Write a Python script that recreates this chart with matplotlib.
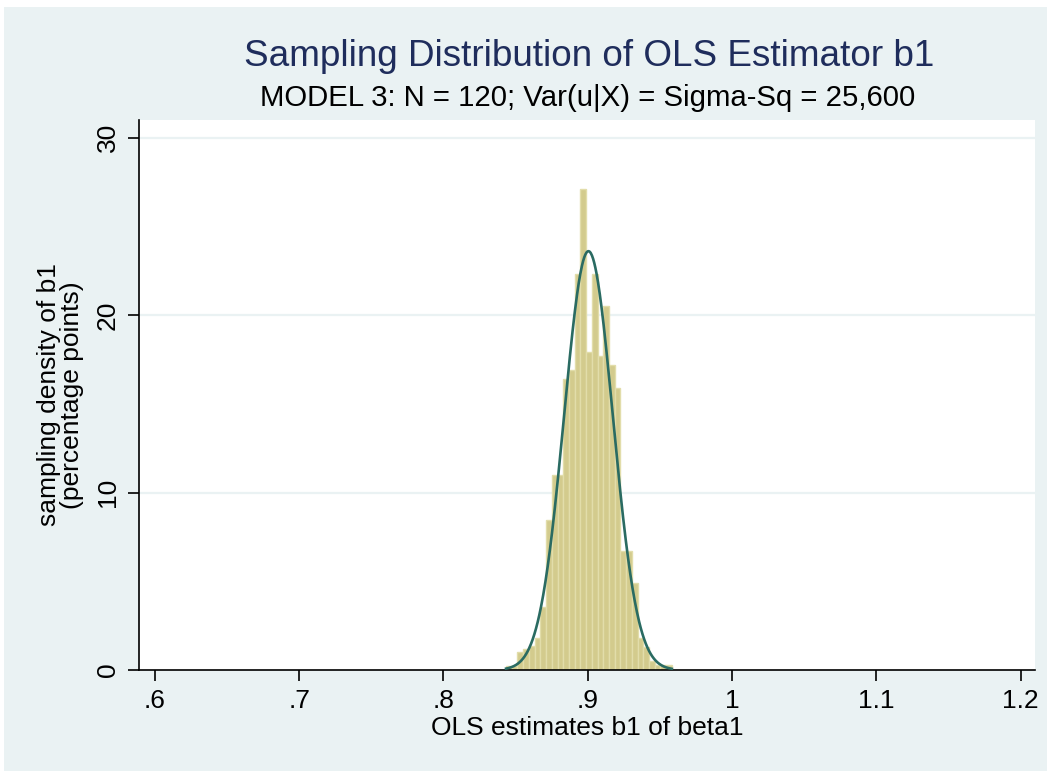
import numpy as np
import matplotlib
matplotlib.use("Agg")
import matplotlib.pyplot as plt
from matplotlib.patches import Rectangle


# ----------------------------------------------------------------------------------------------------------
# DATA
# ----------------------------------------------------------------------------------------------------------

# histogram of the OLS estimates b1: 29 bins between these two edges
bin_start = 0.8434
bin_end = 0.9583
bin_heights = [0.2, 0.25, 1.0, 1.2, 1.35, 1.8, 3.55, 8.45, 11.0, 11.0,
               16.4, 16.9, 22.3, 27.1, 17.9, 22.3, 17.7, 20.5, 17.2, 15.9,
               6.7, 6.7, 4.9, 1.8, 1.3, 0.5, 0.3, 0.3, 0.3]

# overlaid normal density
normal_mean = 0.9005
normal_sd = 0.0169

x_ticks = [0.6, 0.7, 0.8, 0.9, 1.0, 1.1, 1.2]
x_tick_labels = [".6", ".7", ".8", ".9", "1", "1.1", "1.2"]
y_ticks = [0, 10, 20, 30]
y_tick_labels = ["0", "10", "20", "30"]

title = "Sampling Distribution of OLS Estimator b1"
subtitle = "MODEL 3: N = 120; Var(u|X) = Sigma-Sq = 25,600"
x_label = "OLS estimates b1 of beta1"
y_label = "sampling density of b1\n(percentage points)"


# ----------------------------------------------------------------------------------------------------------
# STYLE
# ----------------------------------------------------------------------------------------------------------

plt.rcParams['font.family'] = ['Liberation Sans', 'DejaVu Sans']

PANEL = "#eaf2f3"
BAR_FILL = "#d3cb8d"
BAR_EDGE = "#e2ddaa"
CURVE = "#2a6b62"
TITLE_COLOR = "#1f2d5c"


def main():
    fig = plt.figure(figsize=(10.51, 7.71), dpi=100, facecolor="white")

    # light outer region like a Stata graph region (drawn behind the axes)
    fig.patches.append(Rectangle((4 / 1051, 0), 1043 / 1051, 764 / 771,
                                 transform=fig.transFigure, facecolor=PANEL,
                                 edgecolor="none", zorder=-10))

    axe = fig.add_axes([139 / 1051, 101 / 771, 896 / 1051, 550 / 771])
    axe.set_facecolor("white")

    # histogram bars
    n_bins = len(bin_heights)
    edges = np.linspace(bin_start, bin_end, n_bins + 1)
    width = edges[1] - edges[0]
    axe.bar(edges[:-1], bin_heights, width=width, align="edge",
            color=BAR_FILL, edgecolor=BAR_EDGE, linewidth=1.0, zorder=2)

    # normal density over the data range
    grid_x = np.linspace(bin_start, bin_end, 300)
    grid_y = np.exp(-0.5 * ((grid_x - normal_mean) / normal_sd) ** 2) / (normal_sd * np.sqrt(2 * np.pi))
    axe.plot(grid_x, grid_y, color=CURVE, linewidth=1.9, zorder=3)

    # horizontal grid lines
    for tick in y_ticks[1:]:
        axe.axhline(tick, color=PANEL, linewidth=1.6, zorder=1)

    axe.set_xlim(0.589, 1.21)
    axe.set_ylim(0, 31.0)

    axe.set_xticks(x_ticks)
    axe.set_xticklabels(x_tick_labels, fontsize=19)
    axe.set_yticks(y_ticks)
    axe.set_yticklabels(y_tick_labels, fontsize=19, rotation=90, va="center")
    axe.tick_params(axis="both", direction="out", length=8, width=1.2, color="black")
    axe.tick_params(axis="x", pad=6)
    axe.tick_params(axis="y", pad=6)

    for side in ("top", "right"):
        axe.spines[side].set_visible(False)
    for side in ("left", "bottom"):
        axe.spines[side].set_linewidth(1.2)

    axe.set_xlabel(x_label, fontsize=19, labelpad=2)
    axe.set_ylabel(y_label, fontsize=19, labelpad=8, linespacing=0.95)

    fig.text(589 / 1051, 1 - 57 / 771, title, ha="center", va="center",
             fontsize=26.6, color=TITLE_COLOR)
    fig.text(588 / 1051, 1 - 98 / 771, subtitle, ha="center", va="center",
             fontsize=21.2, color="black")

    fig.savefig("out.png", dpi=100, facecolor="white")


if __name__ == "__main__":
    main()
